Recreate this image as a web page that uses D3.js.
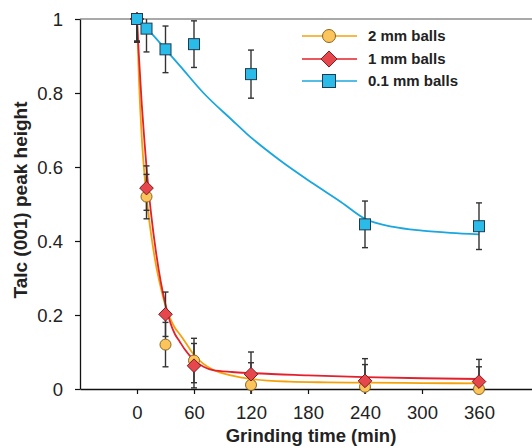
<!DOCTYPE html>
<html>
<head>
<meta charset="utf-8">
<script src="https://cdn.jsdelivr.net/npm/d3@7"></script>
<style>
  html, body { margin: 0; padding: 0; background: #fff; }
  svg { display: block; font-family: "Liberation Sans", Arial, sans-serif; }
</style>
</head>
<body>
<svg id="chart" width="532" height="448"></svg>
<script>
// Grinding times (min)
const times = [0, 10, 30, 60, 120, 240, 360];

// Normalised talc (001) peak heights and their error bars
const balls2mm  = [1.0, 0.52, 0.12, 0.077, 0.011, 0.006, 0.0];
const err2mm    = [0.06, 0.06, 0.06, 0.06, 0.06, 0.06, 0.06];
const balls1mm  = [1.0, 0.543, 0.202, 0.063, 0.04, 0.022, 0.02];
const err1mm    = [0.06, 0.06, 0.06, 0.06, 0.06, 0.06, 0.06];
const balls01mm = [1.0, 0.974, 0.918, 0.932, 0.851, 0.445, 0.44];
const err01mm   = [0.063, 0.063, 0.063, 0.063, 0.065, 0.063, 0.063];

// Fitted decay curves, sampled along the time axis
const fit2mmT  = [0, 2, 5, 8, 10, 15, 20, 25, 30, 35, 40, 45, 50, 60, 70, 80, 100, 120, 160, 200, 240, 300, 360];
const fit2mmY  = [1.0, 0.84, 0.68, 0.575, 0.52, 0.415, 0.335, 0.275, 0.225, 0.19, 0.165, 0.148, 0.13, 0.092, 0.068, 0.052, 0.036, 0.027, 0.02, 0.018, 0.017, 0.016, 0.015];
const fit1mmT  = [0, 2, 5, 8, 10, 15, 20, 25, 30, 35, 40, 45, 50, 60, 70, 80, 100, 120, 180, 240, 300, 360];
const fit1mmY  = [1.0, 0.9, 0.77, 0.665, 0.6, 0.47, 0.37, 0.29, 0.228, 0.18, 0.148, 0.128, 0.108, 0.078, 0.06, 0.051, 0.046, 0.043, 0.037, 0.032, 0.029, 0.027];
const fit01mmT = [0, 15, 30, 45, 70, 100, 115, 150, 185, 215, 240, 270, 300, 330, 360];
const fit01mmY = [1.0, 0.962, 0.918, 0.874, 0.80, 0.727, 0.691, 0.619, 0.556, 0.505, 0.46, 0.438, 0.428, 0.422, 0.418];

// Axis ticks
const xTicks = [0, 60, 120, 180, 240, 300, 360];
const yTicks = [0, 0.2, 0.4, 0.6, 0.8, 1];
const yTickLabels = ["0", "0.2", "0.4", "0.6", "0.8", "1"];

const seriesNames = ["2 mm balls", "1 mm balls", "0.1 mm balls"];

const svg = d3.select("#chart");
const x = d3.scaleLinear().domain([-60, 420]).range([80, 536]);
const y = d3.scaleLinear().domain([0, 1]).range([389, 19]);

const series = [
  { name: seriesNames[0], vals: balls2mm, err: err2mm, fitT: fit2mmT, fitY: fit2mmY,
    line: "#f5a20a", fill: "#fcc55c", stroke: "#8a6420", shape: "circle" },
  { name: seriesNames[1], vals: balls1mm, err: err1mm, fitT: fit1mmT, fitY: fit1mmY,
    line: "#e3202b", fill: "#e6474d", stroke: "#7a1b1e", shape: "diamond" },
  { name: seriesNames[2], vals: balls01mm, err: err01mm, fitT: fit01mmT, fitY: fit01mmY,
    line: "#1aa6df", fill: "#2bbbe9", stroke: "#1d3c52", shape: "square" }
];

svg.append("defs").append("clipPath").attr("id", "plotclip")
  .append("rect").attr("x", 80).attr("y", 19).attr("width", 460).attr("height", 375);

// Frame: top line and axes
svg.append("line").attr("x1", 80).attr("x2", 532).attr("y1", y(1)).attr("y2", y(1))
  .attr("stroke", "#555").attr("stroke-width", 1.2);

const xAxis = svg.append("g").attr("transform", `translate(0,${y(0)})`)
  .call(d3.axisBottom(x).tickValues(xTicks).tickSize(5).tickSizeOuter(0).tickFormat(d3.format("d")));
const yAxis = svg.append("g").attr("transform", `translate(${x(-60)},0)`)
  .call(d3.axisLeft(y).tickValues(yTicks).tickSize(5).tickSizeOuter(0).tickFormat((d, i) => yTickLabels[i]));
[xAxis, yAxis].forEach(g => {
  g.select(".domain").attr("stroke", "#111").attr("stroke-width", 1.3);
  g.selectAll(".tick line").attr("stroke", "#111").attr("stroke-width", 1.2);
  g.selectAll(".tick text").attr("fill", "#222").style("font-size", "18.5px")
    .style("font-family", "'Liberation Sans', Arial, sans-serif");
});
xAxis.selectAll(".tick text").attr("dy", 0).attr("y", 30);
yAxis.selectAll(".tick text").attr("x", -17).attr("dy", "0.36em");

// Axis titles
svg.append("text").attr("x", 311).attr("y", 442).attr("text-anchor", "middle")
  .style("font-size", "18.5px").style("font-weight", "bold").attr("fill", "#222")
  .text("Grinding time (min)");
svg.append("text").attr("transform", "translate(27,200) rotate(-90)").attr("text-anchor", "middle")
  .style("font-size", "19px").style("font-weight", "bold").attr("fill", "#222")
  .text("Talc (001) peak height");

const plot = svg.append("g").attr("clip-path", "url(#plotclip)");

// Fitted curves
const line = d3.line().x(d => x(d[0])).y(d => y(d[1])).curve(d3.curveMonotoneX);
series.forEach(s => {
  plot.append("path").datum(s.fitT.map((t, i) => [t, s.fitY[i]]))
    .attr("d", line).attr("fill", "none").attr("stroke", s.line).attr("stroke-width", 1.8);
});

// Error bars
series.forEach(s => {
  const g = plot.append("g").attr("stroke", "#333").attr("stroke-width", 1.4);
  times.forEach((t, i) => {
    const cx = x(t), lo = y(s.vals[i] - s.err[i]), hi = y(s.vals[i] + s.err[i]);
    g.append("line").attr("x1", cx).attr("x2", cx).attr("y1", lo).attr("y2", hi);
    g.append("line").attr("x1", cx - 3).attr("x2", cx + 3).attr("y1", lo).attr("y2", lo);
    g.append("line").attr("x1", cx - 3).attr("x2", cx + 3).attr("y1", hi).attr("y2", hi);
  });
});

// Marker drawing
function marker(g, shape, cx, cy, size, s) {
  let m;
  if (shape === "circle") {
    m = g.append("circle").attr("cx", cx).attr("cy", cy).attr("r", size / 2);
  } else if (shape === "diamond") {
    const h = size * 0.62;
    m = g.append("path").attr("d", `M${cx},${cy - h}L${cx + h},${cy}L${cx},${cy + h}L${cx - h},${cy}Z`);
  } else {
    m = g.append("rect").attr("x", cx - size / 2).attr("y", cy - size / 2)
      .attr("width", size).attr("height", size);
  }
  m.attr("fill", s.fill).attr("stroke", s.stroke).attr("stroke-width", 1);
}

const markers = svg.append("g");
series.forEach(s => {
  times.forEach((t, i) => marker(markers, s.shape, x(t), y(s.vals[i]), 11, s));
});

// Legend
const legend = svg.append("g");
const legendRows = [36, 59, 81];
series.forEach((s, i) => {
  const ly = legendRows[i];
  legend.append("line").attr("x1", 302).attr("x2", 357).attr("y1", ly).attr("y2", ly)
    .attr("stroke", s.line).attr("stroke-width", 1.6);
  marker(legend, s.shape, 329, ly, 13, s);
  legend.append("text").attr("x", 368).attr("y", ly).attr("dy", "0.36em")
    .style("font-size", "15px").style("font-weight", "bold").attr("fill", "#222").text(s.name);
});
</script>
</body>
</html>
